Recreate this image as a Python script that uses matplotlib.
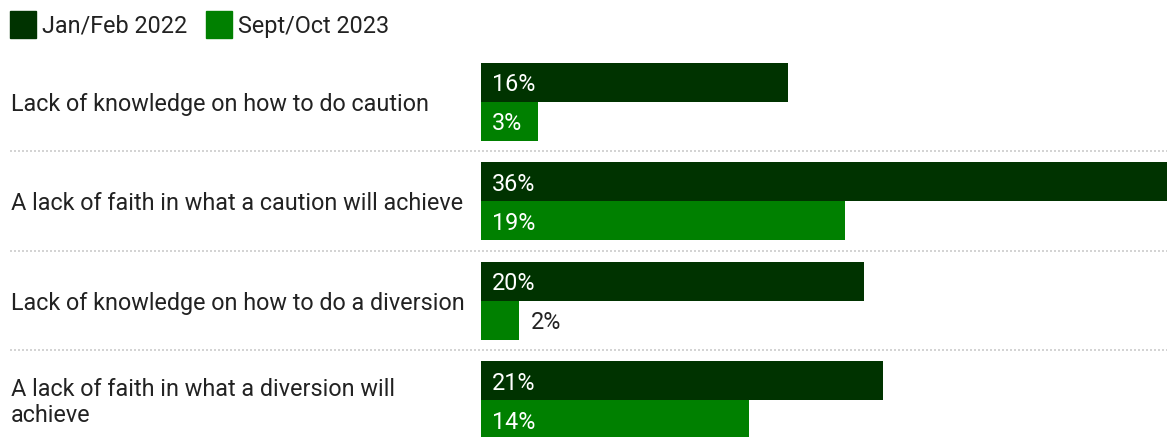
import matplotlib.pyplot as plt
import matplotlib.transforms as mtransforms
from matplotlib.patches import Rectangle

plt.rcParams['font.family'] = ['Roboto', 'DejaVu Sans']

reasons = [
    'Lack of knowledge on how to do caution',
    'A lack of faith in what a caution will achieve',
    'Lack of knowledge on how to do a diversion',
    'A lack of faith in what a diversion will\nachieve',
]
jan_feb_2022 = [16, 36, 20, 21]
sept_oct_2023 = [3, 19, 2, 14]
series_names = ['Jan/Feb 2022', 'Sept/Oct 2023']
colors = ['#003300', '#008000']

fig = plt.figure(figsize=(11.67, 4.37), dpi=100)
ax = fig.add_axes([481 / 1167, 0, 686 / 1167, 383 / 437])

bar_h = 0.39
pos = range(len(reasons))
ax.barh([p - bar_h / 2 for p in pos], jan_feb_2022, height=bar_h, color=colors[0])
ax.barh([p + bar_h / 2 for p in pos], sept_oct_2023, height=bar_h, color=colors[1])
ax.set_xlim(0, 35.8)
ax.set_ylim(3.37, -0.48)
ax.axis('off')

fs = 16.8
dy = 0.025  # nudge text down a little so it sits centred on the bars
for i, (a, b) in enumerate(zip(jan_feb_2022, sept_oct_2023)):
    ax.text(0.55, i - bar_h / 2 + dy, f'{a}%', color='white', fontsize=fs, va='center')
    if b >= 3:
        ax.text(0.55, i + bar_h / 2 + dy, f'{b}%', color='white', fontsize=fs, va='center')
    else:
        ax.text(b + 0.6, i + bar_h / 2 + dy, f'{b}%', color='#222222', fontsize=fs, va='center')

# category labels and dotted separators across the whole width
trans = mtransforms.blended_transform_factory(fig.transFigure, ax.transData)
for i, name in enumerate(reasons):
    ax.text(11 / 1167, i + dy, name, transform=trans, fontsize=fs, color='#222222',
            va='center', ha='left', linespacing=1.2)
    if i < len(reasons) - 1:
        ax.plot([10 / 1167, 1], [i + 0.5, i + 0.5], transform=trans, color='#cccccc',
                lw=1.2, ls=(0, (1.2, 1.2)), clip_on=False)

# legend
lx = [10, 206]
for x0, name, c in zip(lx, series_names, colors):
    fig.add_artist(Rectangle((x0 / 1167, 1 - 38 / 437), 26 / 1167, 27 / 437,
                             transform=fig.transFigure, color=c))
    fig.text((x0 + 32) / 1167, 1 - 26 / 437, name, fontsize=fs, color='#222222',
             va='center', ha='left')

fig.savefig('out.png', dpi=100)
